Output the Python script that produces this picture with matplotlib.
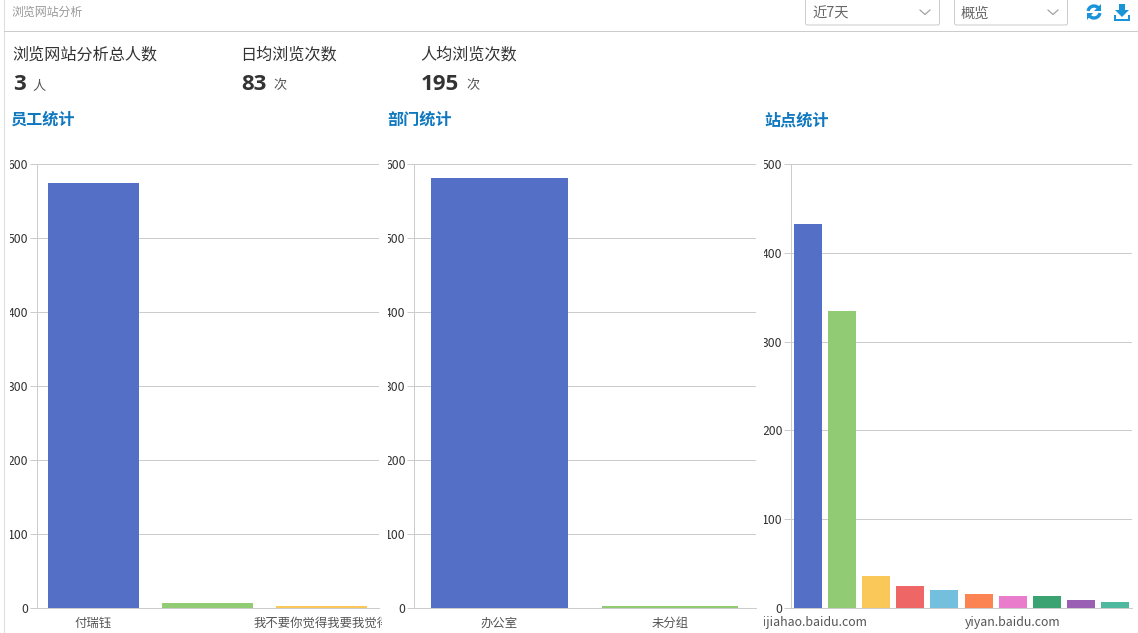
import matplotlib
matplotlib.use("Agg")
import matplotlib.pyplot as plt
from matplotlib.patches import FancyBboxPatch, Polygon, Arc
from matplotlib.transforms import Bbox

plt.rcParams['font.family'] = ['Noto Sans CJK SC', 'DejaVu Sans']

W, H = 1138, 633

colors = ['#5470c6', '#91cc75', '#fac858', '#ee6666', '#73c0de',
          '#fc8452', '#ea7ccc', '#3ba272', '#9a60b4', '#4fb99f']

# 员工统计
staff_names = ['付瑞钰', '', '我不要你觉得我要我觉得']
staff_values = [574, 7, 3]
# 部门统计
dept_names = ['办公室', '未分组']
dept_values = [581, 3]
# 站点统计
site_names = ['baijiahao.baidu.com', '', '', '', '', '', 'yiyan.baidu.com', '', '', '']
site_values = [432, 334, 36, 25, 20, 16, 14, 13, 9, 7]

y_ticks_people = [0, 100, 200, 300, 400, 500, 600]
y_ticks_site = [0, 100, 200, 300, 400, 500]

fig = plt.figure(figsize=(W / 100, H / 100), dpi=100, facecolor='white')

# page furniture in pixel coords
bg = fig.add_axes([0, 0, 1, 1])
bg.set_xlim(0, W)
bg.set_ylim(H, 0)
bg.axis('off')
bg.plot([4.5, 4.5], [0, H], color='#dddddd', lw=0.72)
bg.plot([4.5, W], [30.5, 30.5], color='#cccccc', lw=0.72)
bg.text(11, 12.5, '浏览网站分析', fontsize=8.6, color='#999999', va='center')

stats = [
    (13, '浏览网站分析总人数', '3', '人', 32),
    (241, '日均浏览次数', '83', '次', 273),
    (421, '人均浏览次数', '195', '次', 466),
]
for x, title, num, unit, unit_x in stats:
    bg.text(x - 1, 54.5, title, fontsize=11.6, fontweight='medium', color='#333333', va='center')
    bg.text(x, 84, num, fontsize=16, fontweight='bold', color='#333333',
            va='center', family='Open Sans')
    bg.text(unit_x, 86, unit, fontsize=9.5, color='#555555', va='center')

for x, title in [(10, '员工统计'), (387, '部门统计'), (764, '站点统计')]:
    bg.text(x, 120, title, fontsize=11.6, fontweight='bold', color='#0f78bf', va='center')

# dropdowns
for x0, x1, label in [(805, 940, '近7天'), (954, 1068, '概览')]:
    bg.add_patch(FancyBboxPatch((x0 + 0.5, -6), x1 - x0 - 1, 31,
                                boxstyle='round,pad=0,rounding_size=2',
                                fc='white', ec='#cccccc', lw=0.72))
    bg.text(x0 + 7, 13.5, label, fontsize=10.3, color='#666666', va='center')
    cx = x1 - 15
    bg.plot([cx - 5, cx, cx + 5], [10, 14.5, 10], color='#999999', lw=0.8)

# refresh icon
icon = '#1a94d8'
bg.add_patch(Arc((1094, 12), 12, 12, theta1=190, theta2=320, color=icon, lw=2.4))
bg.add_patch(Arc((1094, 12), 12, 12, theta1=10, theta2=140, color=icon, lw=2.4))
bg.add_patch(Polygon([[1101, 4], [1101, 11], [1094.5, 11]], fc=icon, ec='none'))
bg.add_patch(Polygon([[1087, 20], [1087, 13], [1093.5, 13]], fc=icon, ec='none'))
# download icon
bg.add_patch(Polygon([[1119, 4], [1125, 4], [1125, 10], [1129, 10], [1122, 17],
                      [1115, 10], [1119, 10]], fc=icon, ec='none'))
bg.add_patch(Polygon([[1114, 15], [1116, 15], [1116, 18.5], [1128, 18.5], [1128, 15],
                      [1130, 15], [1130, 21], [1114, 21]], fc=icon, ec='none'))


def draw_bars(left, right, clip_l, clip_r, names, values, yticks, ymax, bar_frac):
    ax = fig.add_axes([left / W, (H - 608) / H, (right - left) / W, (608 - 164) / H])
    x = list(range(len(values)))
    ax.bar(x, values, width=bar_frac, color=colors[:len(values)], zorder=3)
    ax.set_xlim(-0.5, len(values) - 0.5)
    ax.set_ylim(0, ymax)
    ax.set_yticks(yticks)
    ax.set_xticks(x)
    ax.set_xticklabels(names, fontsize=8.9, color='#555555')
    ax.tick_params(axis='x', length=0, pad=6)
    ax.tick_params(axis='y', length=5, width=0.72, color='#cccccc', labelsize=8.8,
                   labelcolor='#333333', pad=1)
    ax.grid(axis='y', color='#cccccc', lw=0.72, zorder=0)
    ax.set_axisbelow(True)
    for s in ['top', 'right']:
        ax.spines[s].set_visible(False)
    for s in ['left', 'bottom']:
        ax.spines[s].set_color('#cccccc')
        ax.spines[s].set_linewidth(0.72)
    # labels get cut off at the chart container edge, same as the page
    box = Bbox([[clip_l, 0], [clip_r, H]])
    for lab in ax.get_xticklabels() + ax.get_yticklabels():
        lab.set_clip_box(box)
        lab.set_clip_on(True)
    return ax


draw_bars(36.5, 378.5, 10, 382, staff_names, staff_values, y_ticks_people, 600, 0.805)
draw_bars(414, 755.5, 388, 760, dept_names, dept_values, y_ticks_people, 600, 0.8)
draw_bars(791, 1132, 764, 1138, site_names, site_values, y_ticks_site, 500, 0.82)

fig.savefig('out.png', dpi=100)
